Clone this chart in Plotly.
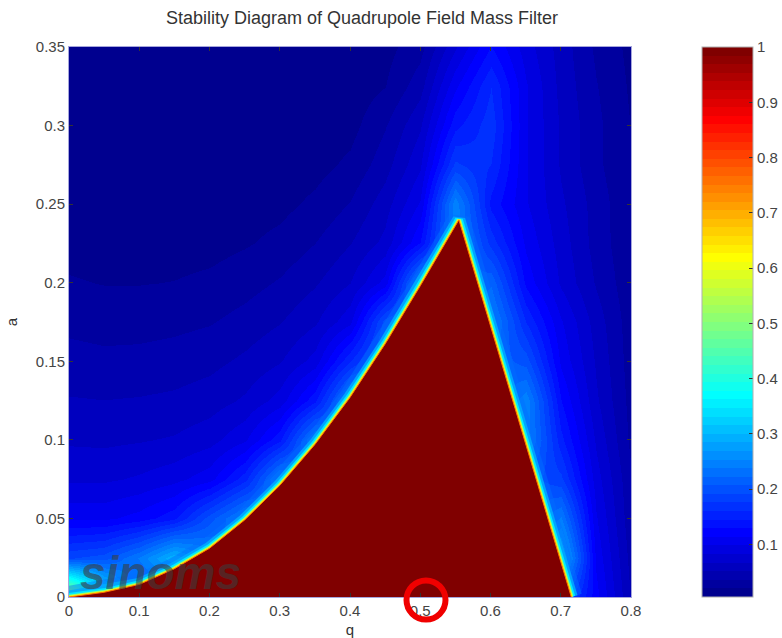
import plotly.graph_objects as go

# ---------------- data ----------------
q_grid = [0.0, 0.05, 0.1, 0.15, 0.2, 0.25, 0.3, 0.35, 0.4, 0.45, 0.5, 0.55, 0.6, 0.65, 0.7, 0.75, 0.8]
a_grid = [0.0, 0.025, 0.05, 0.075, 0.1, 0.125, 0.15, 0.175, 0.2, 0.225, 0.25, 0.275, 0.3, 0.325, 0.35]

row_a0000 = [0.55, 0.35, 0.2, 0.2, 0.2, 0.2, 0.2, 0.2, 0.2, 0.2, 0.2, 0.2, 0.2, 0.2, 0.2, 0.12, 0.05]
row_a0025 = [0.19, 0.2, 0.24, 0.3, 0.25, 0.2, 0.2, 0.2, 0.2, 0.2, 0.2, 0.2, 0.2, 0.2, 0.3, 0.11, 0.045]
row_a0050 = [0.11, 0.11, 0.12, 0.14, 0.2, 0.25, 0.2, 0.2, 0.2, 0.2, 0.2, 0.2, 0.2, 0.2, 0.24, 0.1, 0.04]
row_a0075 = [0.08, 0.08, 0.085, 0.093, 0.108, 0.155, 0.25, 0.2, 0.2, 0.2, 0.2, 0.2, 0.2, 0.2, 0.18, 0.09, 0.038]
row_a0100 = [0.065, 0.064, 0.066, 0.069, 0.077, 0.096, 0.142, 0.25, 0.2, 0.2, 0.2, 0.2, 0.2, 0.25, 0.15, 0.08, 0.032]
row_a0125 = [0.053, 0.052, 0.053, 0.055, 0.06, 0.07, 0.09, 0.142, 0.25, 0.2, 0.2, 0.2, 0.2, 0.25, 0.13, 0.07, 0.03]
row_a0150 = [0.042, 0.04, 0.041, 0.043, 0.047, 0.055, 0.066, 0.089, 0.16, 0.22, 0.2, 0.2, 0.22, 0.2, 0.11, 0.065, 0.028]
row_a0175 = [0.032, 0.03, 0.03, 0.032, 0.035, 0.042, 0.051, 0.065, 0.094, 0.2, 0.22, 0.2, 0.25, 0.16, 0.1, 0.06, 0.027]
row_a0200 = [0.022, 0.02, 0.02, 0.021, 0.024, 0.03, 0.038, 0.05, 0.067, 0.105, 0.25, 0.2, 0.22, 0.125, 0.08, 0.05, 0.025]
row_a0225 = [0.015, 0.014, 0.014, 0.014, 0.015, 0.019, 0.025, 0.036, 0.051, 0.072, 0.13, 0.25, 0.17, 0.11, 0.075, 0.045, 0.023]
row_a0250 = [0.012, 0.012, 0.011, 0.011, 0.012, 0.013, 0.016, 0.024, 0.037, 0.06, 0.1, 0.25, 0.14, 0.1, 0.07, 0.045, 0.022]
row_a0275 = [0.01, 0.01, 0.01, 0.01, 0.01, 0.011, 0.012, 0.015, 0.024, 0.045, 0.08, 0.18, 0.16, 0.1, 0.065, 0.04, 0.02]
row_a0300 = [0.009, 0.009, 0.009, 0.009, 0.009, 0.009, 0.01, 0.011, 0.015, 0.035, 0.065, 0.14, 0.17, 0.1, 0.065, 0.04, 0.02]
row_a0325 = [0.008, 0.008, 0.008, 0.008, 0.008, 0.008, 0.008, 0.009, 0.011, 0.02, 0.045, 0.11, 0.16, 0.1, 0.062, 0.037, 0.018]
row_a0350 = [0.007, 0.007, 0.007, 0.007, 0.007, 0.007, 0.007, 0.007, 0.009, 0.015, 0.03, 0.08, 0.13, 0.09, 0.06, 0.033, 0.016]

# boundary of the stable (value = 1) region
left_q = [0.0, 0.05, 0.1, 0.15, 0.2, 0.25, 0.3, 0.35, 0.4, 0.45, 0.5, 0.555]
left_a = [0.0, 0.003, 0.008, 0.018, 0.031, 0.049, 0.071, 0.097, 0.127, 0.161, 0.198, 0.240]
right_q = [0.555, 0.635, 0.715]
right_a = [0.240, 0.120, 0.0]

x_ticks = [0, 0.1, 0.2, 0.3, 0.4, 0.5, 0.6, 0.7, 0.8]
x_labels = ["0", "0.1", "0.2", "0.3", "0.4", "0.5", "0.6", "0.7", "0.8"]
y_ticks = [0, 0.05, 0.1, 0.15, 0.2, 0.25, 0.3, 0.35]
y_labels = ["0", "0.05", "0.1", "0.15", "0.2", "0.25", "0.3", "0.35"]
cb_ticks = [0.1, 0.2, 0.3, 0.4, 0.5, 0.6, 0.7, 0.8, 0.9, 1.0]
cb_labels = ["0.1", "0.2", "0.3", "0.4", "0.5", "0.6", "0.7", "0.8", "0.9", "1"]

z_min, z_max = 0.005, 1.0

# ---------------- MATLAB jet(64) colormap ----------------
def jet_colors(m=64):
    n = -(-m // 4)
    u = [i / n for i in range(1, n + 1)] + [1.0] * (n - 1) + [i / n for i in range(n, 0, -1)]
    g0 = -(-n // 2) - (1 if m % 4 == 1 else 0)
    J = [[0.0, 0.0, 0.0] for _ in range(m)]
    for k, val in enumerate(u, start=1):
        g = g0 + k
        r = g + n
        b = g - n
        if 1 <= r <= m:
            J[r - 1][0] = val
        if 1 <= g <= m:
            J[g - 1][1] = val
        if 1 <= b <= m:
            J[b - 1][2] = val
    return J

jet = jet_colors(64)
colorscale = []
for i, (r, g, b) in enumerate(jet):
    c = f"rgb({round(r*255)},{round(g*255)},{round(b*255)})"
    colorscale.append([i / 64, c])
    colorscale.append([(i + 1) / 64, c])

z = [row_a0000, row_a0025, row_a0050, row_a0075, row_a0100, row_a0125, row_a0150,
     row_a0175, row_a0200, row_a0225, row_a0250, row_a0275, row_a0300, row_a0325, row_a0350]

W, H = 782, 638
L, R, T, B = 69, 151, 47, 41
PW, PH = W - L - R, H - T - B

fig = go.Figure()
fig.add_trace(go.Heatmap(
    x=q_grid, y=a_grid, z=z, zsmooth="best", colorscale=colorscale,
    zmin=z_min, zmax=z_max, hoverinfo="skip",
    colorbar=dict(
        x=(702 - L) / PW, xanchor="left", xpad=0, ypad=0,
        y=0.5, yanchor="middle", len=1, lenmode="fraction",
        thickness=51, thicknessmode="pixels",
        outlinewidth=1, outlinecolor="#b0b0b0",
        tickvals=cb_ticks, ticktext=cb_labels, ticks="inside", ticklen=4,
        tickcolor="#333", tickfont=dict(size=15, color="#444"),
    ),
))

bq = left_q + right_q[1:]
ba = left_a + right_a[1:]

# glow along the boundary (outer halves stay visible)
for w, col in [(22, "rgba(0,110,255,0.45)"), (13, "rgba(0,170,255,0.9)"), (8, "rgb(0,235,255)"),
               (4.5, "rgb(140,255,120)"), (2.6, "rgb(255,235,0)")]:
    fig.add_trace(go.Scatter(x=bq, y=ba, mode="lines", line=dict(color=col, width=w),
                             hoverinfo="skip", showlegend=False))

# stable region
fig.add_trace(go.Scatter(x=bq + [bq[0]], y=ba + [ba[0]], mode="lines", fill="toself",
                         fillcolor="rgb(128,0,0)", line=dict(width=0, color="rgb(128,0,0)"),
                         hoverinfo="skip", showlegend=False))
fig.add_trace(go.Scatter(x=bq, y=ba, mode="lines", line=dict(color="rgb(255,110,0)", width=1),
                         hoverinfo="skip", showlegend=False))

axis_common = dict(showline=True, linecolor="rgb(165,165,220)", linewidth=1, mirror="ticks",
                   ticks="inside", ticklen=4, tickcolor="#333", showgrid=False, zeroline=False,
                   automargin=False, tickfont=dict(size=15, color="#444"))

fig.update_xaxes(range=[0, 0.8], tickvals=x_ticks, ticktext=x_labels,
                 title=dict(text="q", font=dict(size=15, color="#333"), standoff=7), **axis_common)
fig.update_yaxes(range=[0, 0.35], tickvals=y_ticks, ticktext=y_labels,
                 title=dict(text="a", font=dict(size=15, color="#333"), standoff=14), **axis_common)

fig.update_layout(
    width=W, height=H,
    margin=dict(l=L, r=R, t=T, b=B, autoexpand=False),
    paper_bgcolor="white", plot_bgcolor="white",
    font=dict(family="Liberation Sans, Arial, sans-serif", size=15, color="#444"),
    title=dict(text="Stability Diagram of Quadrupole Field Mass Filter",
               x=(362 - L) / PW, xref="paper", xanchor="center",
               y=1 - 18 / H, yref="container", yanchor="middle",
               font=dict(size=18, color="#333")),
    showlegend=False,
)

# watermark
fig.add_annotation(text="<b><i>sinoms</i></b>", xref="paper", yref="paper",
                   x=9 / PW, y=-0.008, xanchor="left", yanchor="bottom",
                   showarrow=False, font=dict(size=46, color="rgba(60,60,60,0.6)",
                                              family="Liberation Sans, Arial, sans-serif"))

# red circle around the 0.5 tick label
cx, cy, rr = 426, 600, 19.5
fig.add_shape(type="circle", xref="paper", yref="paper",
              x0=(cx - rr - L) / PW, x1=(cx + rr - L) / PW,
              y0=(H - B - (cy + rr)) / PH, y1=(H - B - (cy - rr)) / PH,
              line=dict(color="rgb(240,0,0)", width=6), layer="above")

fig.write_html("out.html", config={"displayModeBar": False},
               post_script="document.body.style.margin='0';document.body.style.overflow='hidden';")
